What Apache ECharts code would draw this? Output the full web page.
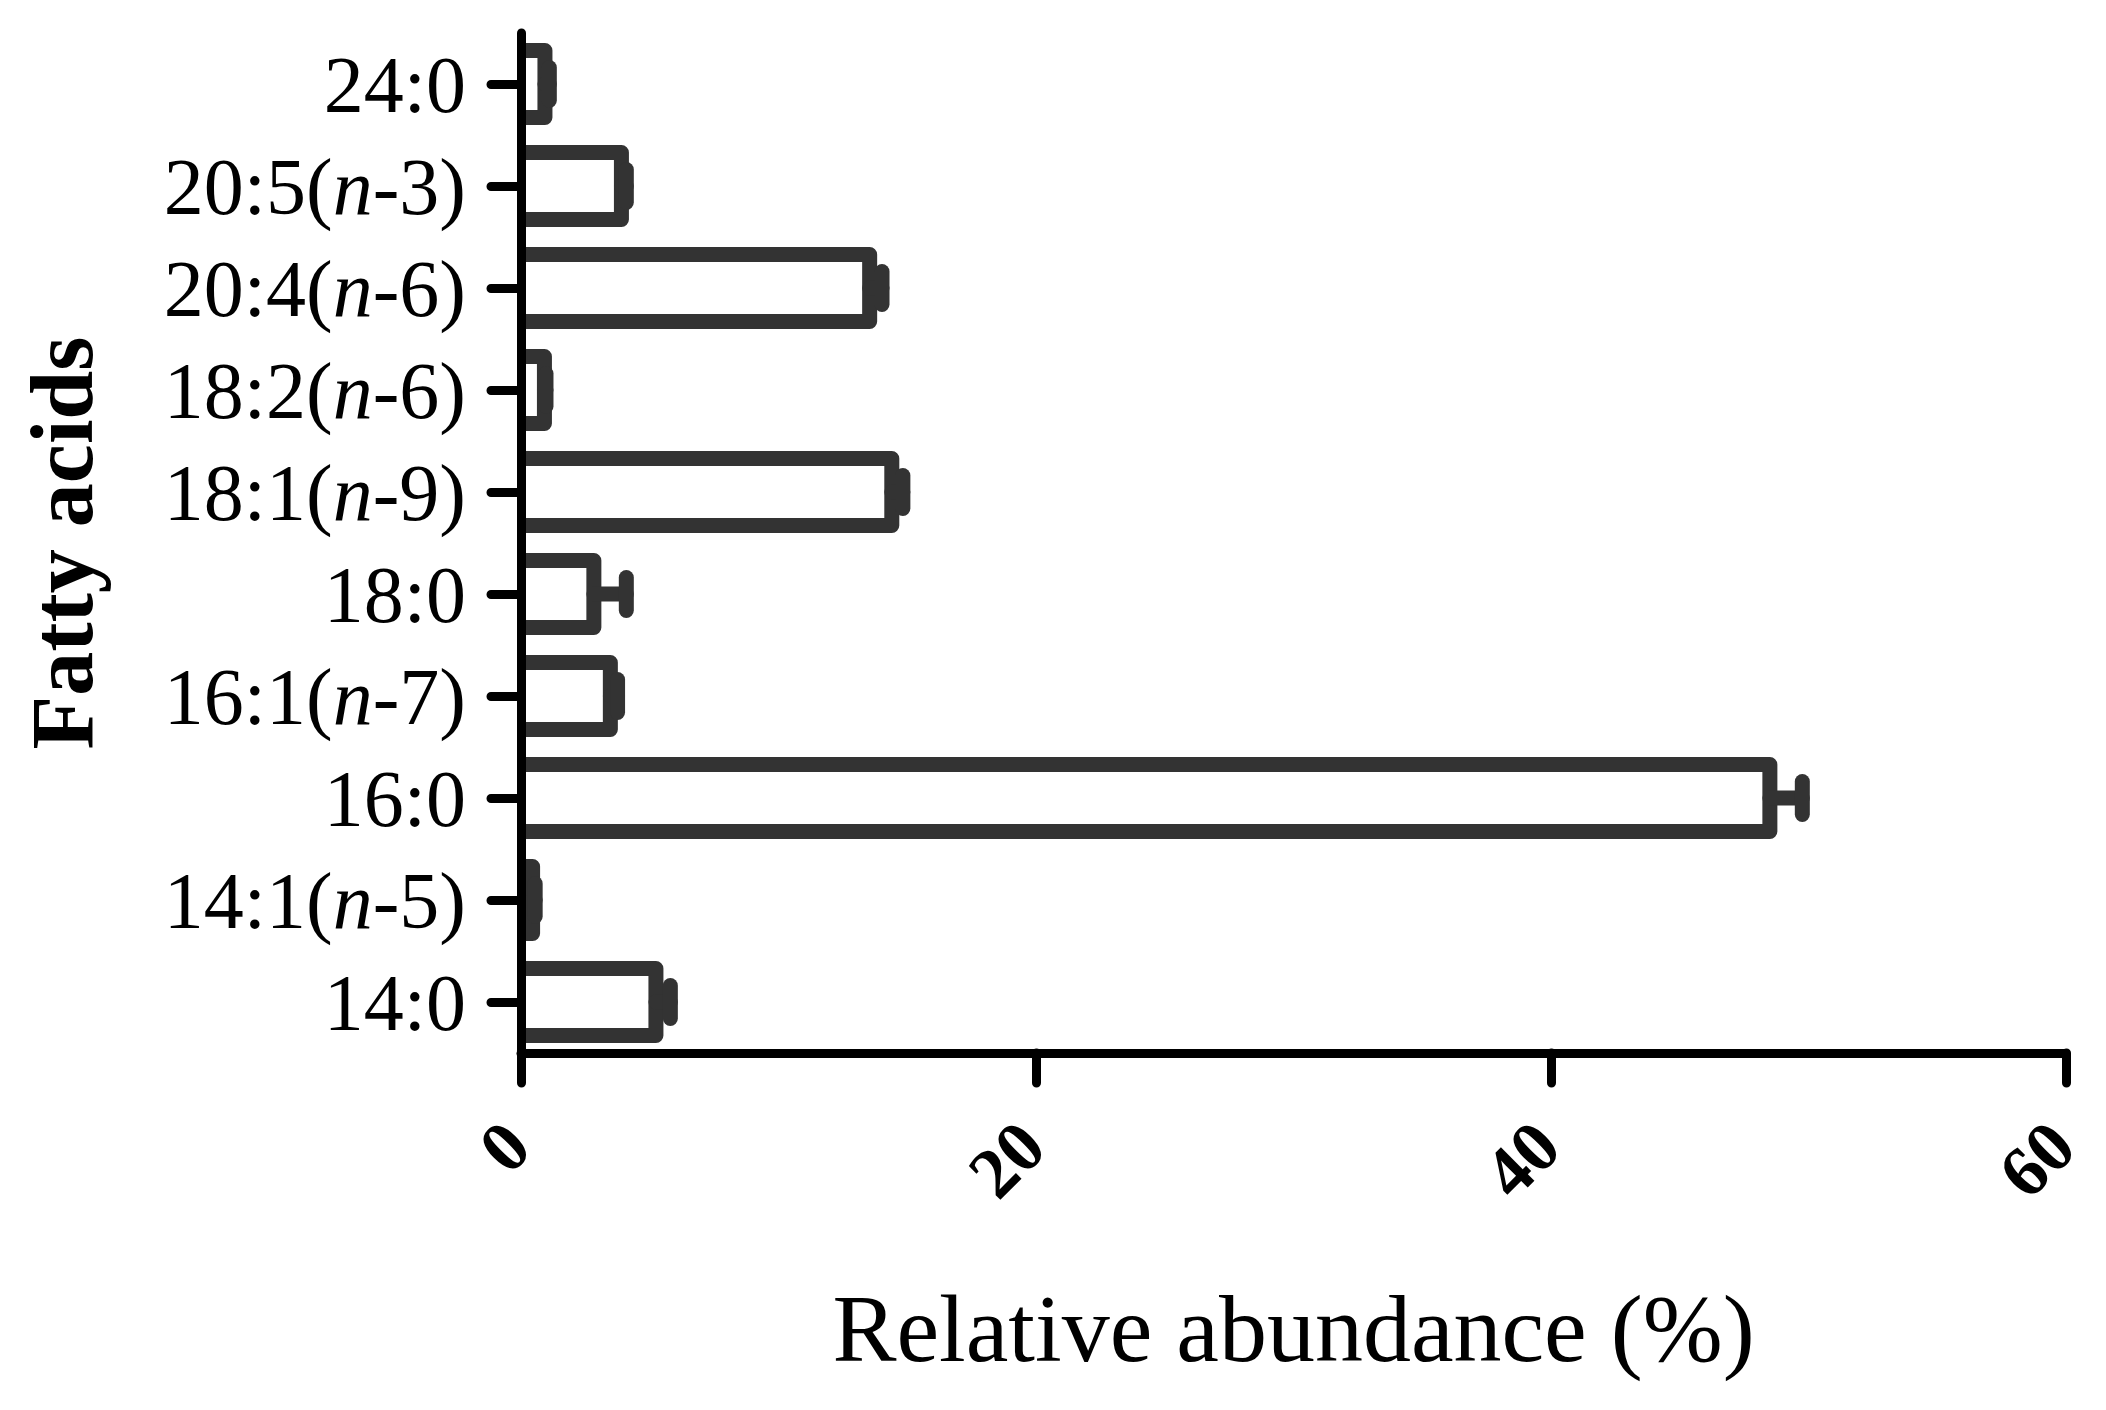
<!DOCTYPE html>
<html>
<head>
<meta charset="utf-8">
<script src="https://cdn.jsdelivr.net/npm/echarts@6/dist/echarts.min.js"></script>
<style>
html,body{margin:0;padding:0;background:#fff;}
#chart{width:2106px;height:1410px;}
</style>
</head>
<body>
<div id="chart"></div>
<script>
// Categories (bottom to top)
const categories = ['14:0','14:1(n-5)','16:0','16:1(n-7)','18:0','18:1(n-9)','18:2(n-6)','20:4(n-6)','20:5(n-3)','24:0'];
// Relative abundance (%)
const values = [5.24, 0.45, 48.5, 3.47, 2.83, 14.4, 0.91, 13.54, 3.9, 0.93];
// Error (SD)
const errors = [0.56, 0.1, 1.26, 0.28, 1.26, 0.43, 0.06, 0.48, 0.19, 0.17];
const xTicks = [0, 20, 40, 60];

const FONT = '"Liberation Serif", "Times New Roman", serif';
const chart = echarts.init(document.getElementById('chart'));

const seriesData = categories.map((c, i) => [values[i], i, errors[i]]);
const BAR_H = 67, STROKE = 15, CAP_HALF = 16.5;

chart.setOption({
  animation: false,
  backgroundColor: '#fff',
  grid: { left: 521, right: 40, top: 33, bottom: 357, containLabel: false },
  xAxis: {
    type: 'value',
    min: xTicks[0], max: xTicks[xTicks.length - 1], interval: 20,
    name: 'Relative abundance (%)',
    nameLocation: 'middle',
    nameGap: 235,
    nameTextStyle: { fontFamily: FONT, fontSize: 96, color: '#000' },
    axisLine: { show: true, lineStyle: { color: '#000', width: 9 } },
    axisTick: { show: true, length: 30, lineStyle: { color: '#000', width: 9, cap: 'round' } },
    splitLine: { show: false },
    axisLabel: {
      rotate: 45, margin: 85,
      fontFamily: FONT, fontSize: 72, fontWeight: 'bold', color: '#000'
    }
  },
  yAxis: {
    type: 'category',
    data: categories,
    z: 5,
    name: 'Fatty acids',
    nameLocation: 'middle',
    nameGap: 408,
    nameTextStyle: { fontFamily: FONT, fontSize: 88, fontWeight: 'bold', color: '#000' },
    axisLine: { show: true, lineStyle: { color: '#000', width: 9 } },
    axisTick: { show: true, interval: 0, alignWithLabel: true, length: 30, lineStyle: { color: '#000', width: 9, cap: 'round' } },
    splitLine: { show: false },
    axisLabel: {
      interval: 0,
      margin: 55,
      padding: [14, 0, 0, 0],
      fontFamily: FONT, fontSize: 80, color: '#000',
      formatter: function (v) {
        return v.replace('(n-', '({i|n}-');
      },
      rich: {
        i: { fontFamily: FONT, fontSize: 80, fontStyle: 'italic', color: '#000' }
      }
    }
  },
  series: [
    {
      // bars: white fill, dark outline on top/right/bottom (stroke centred on the value)
      type: 'custom',
      name: 'bars',
      z: 2,
      data: seriesData,
      encode: { x: 0, y: 1 },
      renderItem: function (params, api) {
        const v = api.value(0), idx = api.value(1);
        const c0 = api.coord([0, idx]);
        const cv = api.coord([v, idx]);
        const yT = c0[1] - BAR_H / 2, yB = c0[1] + BAR_H / 2;
        return {
          type: 'group',
          children: [
            { type: 'rect', shape: { x: c0[0], y: yT, width: cv[0] - c0[0], height: BAR_H }, style: { fill: '#fff' } },
            { type: 'polyline', shape: { points: [[c0[0], yT], [cv[0], yT], [cv[0], yB], [c0[0], yB]] },
              style: { stroke: '#333', lineWidth: STROKE, lineJoin: 'round', fill: null } }
          ]
        };
      }
    },
    {
      // error bars
      type: 'custom',
      name: 'errors',
      z: 3,
      data: seriesData,
      encode: { x: 0, y: 1 },
      renderItem: function (params, api) {
        const v = api.value(0), idx = api.value(1), e = api.value(2);
        const p0 = api.coord([v, idx]);
        const p1 = api.coord([v + e, idx]);
        const style = { stroke: '#333', lineWidth: STROKE, lineCap: 'round', fill: null };
        return {
          type: 'group',
          children: [
            { type: 'line', shape: { x1: p0[0], y1: p0[1], x2: p1[0], y2: p1[1] }, style: style },
            { type: 'line', shape: { x1: p1[0], y1: p1[1] - CAP_HALF, x2: p1[0], y2: p1[1] + CAP_HALF }, style: style }
          ]
        };
      }
    }
  ]
});
</script>
</body>
</html>
